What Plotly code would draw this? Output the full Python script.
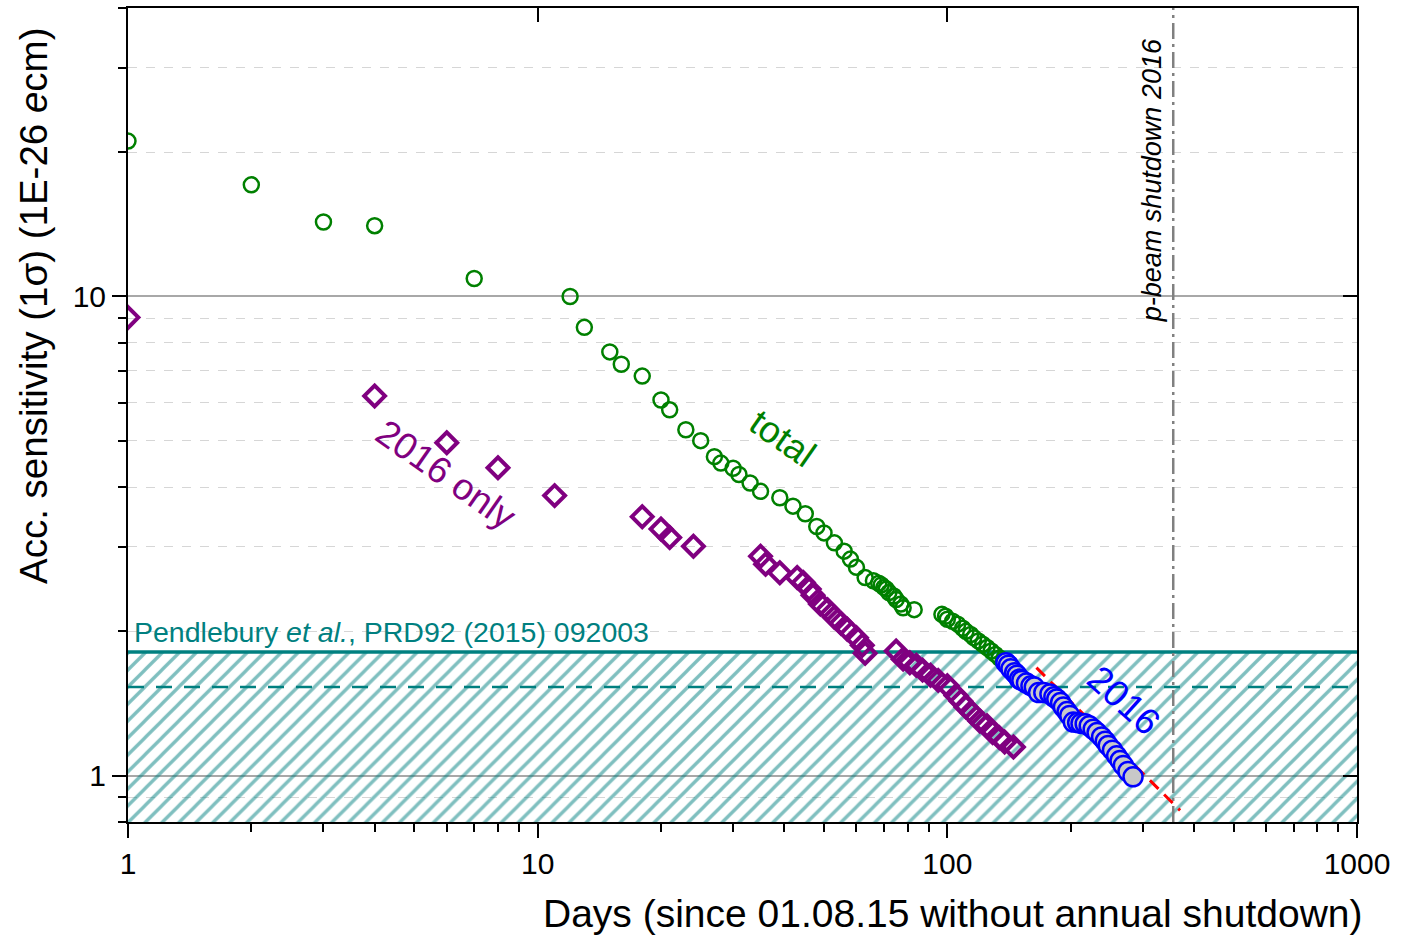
import math
import plotly.graph_objects as go

# ---- data ----
days_total = [1, 2, 3, 4, 7, 12, 13, 15, 16, 18, 20, 21, 23, 25, 27, 28, 30, 31, 33, 35,
              39, 42, 45, 48, 50, 53, 56, 58, 60, 63, 66, 68, 69, 70, 71, 72, 74, 75, 77, 78, 83,
              97, 99, 100, 103, 106, 109, 111, 114, 116, 119, 122, 125, 128, 131, 134, 137]
sens_total = [21.1, 17.1, 14.3, 14.05, 10.9, 10.0, 8.62, 7.66, 7.22, 6.82, 6.08, 5.8, 5.27, 5.0,
              4.63, 4.49, 4.38, 4.25, 4.08, 3.92, 3.80, 3.65, 3.52, 3.31, 3.21, 3.06, 2.94, 2.83,
              2.72, 2.59, 2.55, 2.52, 2.50, 2.47, 2.45, 2.41, 2.37, 2.33, 2.28, 2.24, 2.22,
              2.17, 2.15, 2.12, 2.10, 2.07, 2.03, 2.00, 1.97, 1.94, 1.91, 1.88, 1.85, 1.82,
              1.79, 1.76, 1.74]

days_2016only = [1, 4, 6, 8, 11, 18, 20, 21, 24, 35, 36, 39, 43, 44.5, 46, 47, 49, 51, 53, 55,
                 57, 60, 62, 63, 75, 78, 81, 84, 87, 91, 95, 100, 105, 108, 111, 115, 120, 125,
                 129, 134, 138, 145]
sens_2016only = [9.04, 6.2, 4.95, 4.39, 3.84, 3.47, 3.27, 3.14, 3.01, 2.87, 2.76, 2.65, 2.59,
                 2.53, 2.45, 2.38, 2.28, 2.22, 2.14, 2.08, 2.02, 1.94, 1.87, 1.80, 1.82, 1.75,
                 1.72, 1.70, 1.66, 1.62, 1.58, 1.54, 1.47, 1.43, 1.39, 1.35, 1.30, 1.27, 1.23,
                 1.20, 1.175, 1.147]

days_2016 = [139, 141, 143, 146, 148, 150, 152, 156, 160, 163, 167, 172, 178, 182, 185, 189,
             192, 196, 199, 203, 208, 212, 217, 222, 227, 232, 238, 243, 247, 253, 259, 264,
             269, 276, 284]
sens_2016 = [1.72, 1.70, 1.67, 1.64, 1.62, 1.59, 1.58, 1.56, 1.54, 1.53, 1.49, 1.49, 1.48, 1.46,
             1.445, 1.42, 1.39, 1.36, 1.335, 1.293, 1.29, 1.285, 1.283, 1.27, 1.25, 1.23, 1.204,
             1.18, 1.156, 1.13, 1.10, 1.075, 1.05, 1.02, 0.994]

fit_days = [165, 370]
fit_sens = [1.68, 0.846]

pendlebury_limit = 1.81
pendlebury_dashed = 1.53
shutdown_day = 356

x_range = [1, 1000]
y_range = [0.8, 40]
x_tickvals = [1, 10, 100, 1000]
y_tickvals = [1, 10]

TEAL = "#008080"
GREEN = "#008000"
PURPLE = "#800080"
BLUE = "#0000ff"
FONT = "Liberation Sans, Arial, sans-serif"

fig = go.Figure()

# hatched region of previous limit
fig.add_trace(go.Scatter(
    x=[x_range[0], x_range[1], x_range[1], x_range[0], x_range[0]],
    y=[y_range[0], y_range[0], pendlebury_limit, pendlebury_limit, y_range[0]],
    mode="lines", line=dict(width=0), fill="toself",
    fillcolor="rgba(255,255,255,0)",
    fillpattern=dict(shape="/", fgcolor=TEAL, bgcolor="rgba(255,255,255,0)",
                     size=12, solidity=0.28),
    hoverinfo="skip", showlegend=False))
fig.add_trace(go.Scatter(x=x_range, y=[pendlebury_limit] * 2, mode="lines",
                         line=dict(color=TEAL, width=3.5), showlegend=False, hoverinfo="skip"))
fig.add_trace(go.Scatter(x=x_range, y=[pendlebury_dashed] * 2, mode="lines",
                         line=dict(color=TEAL, width=2.5, dash="16px,12px"),
                         showlegend=False, hoverinfo="skip"))
# shutdown line
fig.add_trace(go.Scatter(x=[shutdown_day] * 2, y=y_range, mode="lines",
                         line=dict(color="#808080", width=2.5, dash="16px,5px,3px,5px"),
                         showlegend=False, hoverinfo="skip"))
# fit line
fig.add_trace(go.Scatter(x=fit_days, y=fit_sens, mode="lines",
                         line=dict(color="#ff0000", width=3, dash="12px,8px"),
                         showlegend=False))

fig.add_trace(go.Scatter(x=days_total, y=sens_total, mode="markers", name="total",
                         marker=dict(symbol="circle-open", size=15, color=GREEN,
                                     line=dict(width=2.5, color=GREEN)), showlegend=False))
fig.add_trace(go.Scatter(x=days_2016only, y=sens_2016only, mode="markers", name="2016 only",
                         marker=dict(symbol="diamond-open", size=16, color=PURPLE,
                                     line=dict(width=4, color=PURPLE)), showlegend=False))
fig.add_trace(go.Scatter(x=days_2016, y=sens_2016, mode="markers", name="2016",
                         marker=dict(symbol="circle", size=19, color="#c8c8c8",
                                     line=dict(width=2.5, color=BLUE)), showlegend=False))
# helper trace for mirrored axes
fig.add_trace(go.Scatter(x=[10], y=[10], xaxis="x2", yaxis="y2", mode="markers",
                         marker=dict(opacity=0), hoverinfo="skip", showlegend=False))

lx = [math.log10(v) for v in x_range]
ly = [math.log10(v) for v in y_range]

axis_font = dict(family=FONT, size=30, color="black")
fig.update_layout(
    width=1402, height=937,
    margin=dict(l=128, r=45, t=8, b=115, autoexpand=False),
    paper_bgcolor="white", plot_bgcolor="white",
    xaxis=dict(type="log", range=lx, tickmode="array", tickvals=x_tickvals,
               ticktext=[str(v) for v in x_tickvals], tickfont=axis_font, automargin=False,
               showline=True, linecolor="black", linewidth=2, mirror=True,
               ticks="outside", ticklen=14, tickwidth=2, tickcolor="black",
               showgrid=False, zeroline=False,
               minor=dict(dtick="D1", ticks="outside", ticklen=8, tickwidth=2,
                          tickcolor="black", showgrid=False)),
    yaxis=dict(type="log", range=ly, tickmode="array", tickvals=y_tickvals,
               ticktext=[str(v) for v in y_tickvals], tickfont=axis_font, automargin=False,
               showline=True, linecolor="black", linewidth=2, mirror=True,
               ticks="outside", ticklen=14, tickwidth=2, tickcolor="black",
               showgrid=True, gridcolor="#a8a8a8", gridwidth=1.5, zeroline=False,
               minor=dict(dtick="D1", ticks="outside", ticklen=8, tickwidth=2,
                          tickcolor="black", showgrid=True, gridcolor="#d6d6d6",
                          griddash="dash", gridwidth=1)),
    xaxis2=dict(type="log", range=lx, overlaying="x", side="top", tickmode="array",
                tickvals=x_tickvals, showticklabels=False, ticks="inside", ticklen=14,
                tickwidth=2, tickcolor="black", showgrid=False, showline=False,
                zeroline=False, automargin=False),
    yaxis2=dict(type="log", range=ly, overlaying="y", side="right", tickmode="array",
                tickvals=y_tickvals, showticklabels=False, ticks="inside", ticklen=14,
                tickwidth=2, tickcolor="black", showgrid=False, showline=False,
                zeroline=False, automargin=False),
    showlegend=False,
)

ann = []
ann.append(dict(text="Days (since 01.08.15 without annual shutdown)", xref="paper", yref="paper",
                x=1.0065, y=(822 - 913) / 814, xanchor="right", yanchor="middle", showarrow=False,
                font=dict(family=FONT, size=39, color="black")))
ann.append(dict(text="Acc. sensitivity (1σ) (1E-26 <i>e</i>cm)", xref="paper", yref="paper",
                x=(33 - 128) / 1229, y=(822 - 306) / 814, xanchor="center", yanchor="middle",
                textangle=-90, showarrow=False, font=dict(family=FONT, size=38.5, color="black")))
ann.append(dict(text="Pendlebury <i>et al.</i>, PRD92 (2015) 092003", xref="x", yref="y",
                x=0, y=math.log10(1.993), xanchor="left", yanchor="middle", xshift=4,
                showarrow=False, font=dict(family=FONT, size=28.5, color=TEAL)))
ann.append(dict(text="<i>p-beam shutdown 2016</i>", xref="x", yref="paper",
                x=math.log10(shutdown_day), y=(822 - 180) / 814, xshift=-21,
                xanchor="center", yanchor="middle", textangle=-90, showarrow=False,
                font=dict(family=FONT, size=27, color="black")))
ann.append(dict(text="total", xref="paper", yref="paper", xanchor="center", yanchor="middle",
                x=(783 - 128) / 1229, y=(822 - 438) / 814, textangle=35, showarrow=False,
                font=dict(family=FONT, size=37, color=GREEN)))
ann.append(dict(text="2016 only", xref="paper", yref="paper", xanchor="center", yanchor="middle",
                x=(446 - 128) / 1229, y=(822 - 474) / 814, textangle=35, showarrow=False,
                font=dict(family=FONT, size=37, color=PURPLE)))
ann.append(dict(text="2016", xref="paper", yref="paper", xanchor="center", yanchor="middle",
                x=(1124 - 128) / 1229, y=(822 - 700) / 814, textangle=42, showarrow=False,
                font=dict(family=FONT, size=37, color=BLUE)))
fig.update_layout(annotations=ann)

fig.write_html("out.html", config={"displayModeBar": False},
               post_script="document.body.style.margin='0';")
